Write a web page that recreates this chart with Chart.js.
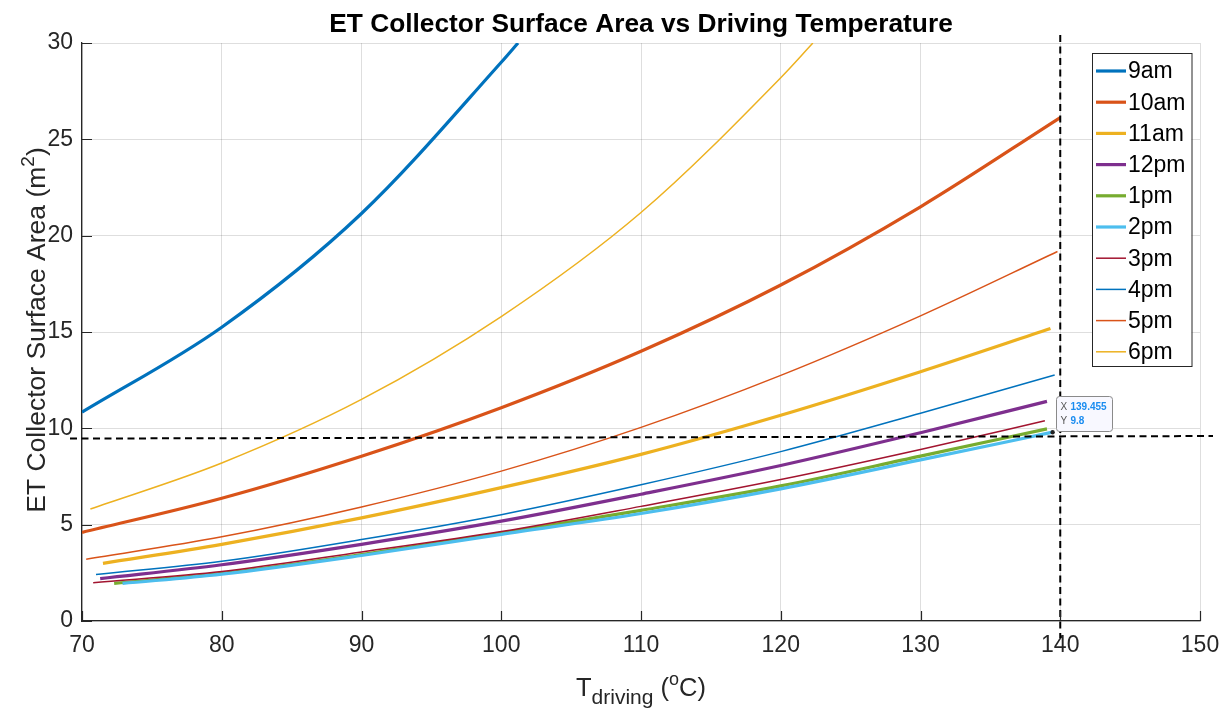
<!DOCTYPE html>
<html>
<head>
<meta charset="utf-8">
<script src="https://cdn.jsdelivr.net/npm/chart.js@4.4.1/dist/chart.umd.min.js"></script>
<style>
  html, body { margin: 0; padding: 0; background: #fff; }
</style>
</head>
<body>
<canvas id="myChart" width="1225" height="711"></canvas>
<script>
const seriesLabels = ['9am', '10am', '11am', '12pm', '1pm', '2pm', '3pm', '4pm', '5pm', '6pm'];
const seriesColors = ['#0072BD', '#D95319', '#EDB120', '#7E2F8E', '#77AC30', '#4DBEEE', '#A2142F', '#0072BD', '#D95319', '#EDB120'];
const seriesWidths = [3.2, 3.2, 3.2, 3.2, 3.2, 3.2, 1.5, 1.5, 1.5, 1.5];

// driving temperature (°C) / collector area (m²)
const t9am = [70, 80, 90, 100, 101.2];
const a9am = [10.84, 15.25, 21.15, 29.0, 30.0];
const t10am = [70, 80, 90, 100, 110, 120, 130, 140];
const a10am = [4.6, 6.37, 8.55, 11.07, 14.0, 17.44, 21.5, 26.13];
const t11am = [71.5, 80, 90, 100, 110, 120, 130, 139.3];
const a11am = [2.99, 3.98, 5.35, 6.92, 8.65, 10.68, 12.94, 15.18];
const t12pm = [71.3, 80, 90, 100, 110, 120, 130, 139.05];
const a12pm = [2.2, 2.92, 3.98, 5.18, 6.58, 8.07, 9.77, 11.4];
const t1pm = [72.3, 80, 90, 100, 110, 120, 130, 139.05];
const a1pm = [1.95, 2.47, 3.45, 4.56, 5.74, 7.01, 8.56, 9.97];
const t2pm = [72.9, 80, 90, 100, 110, 120, 130, 139.455];
const a2pm = [1.95, 2.43, 3.4, 4.5, 5.58, 6.86, 8.36, 9.8];
const t3pm = [70.8, 80, 90, 100, 110, 120, 130, 138.9];
const a3pm = [1.99, 2.57, 3.58, 4.64, 5.95, 7.34, 8.9, 10.39];
const t4pm = [71.0, 80, 90, 100, 110, 120, 130, 139.6];
const a4pm = [2.41, 3.1, 4.23, 5.52, 7.07, 8.79, 10.78, 12.77];
const t5pm = [70.3, 80, 90, 100, 110, 120, 130, 139.8];
const a5pm = [3.21, 4.37, 5.92, 7.78, 10.05, 12.75, 15.84, 19.18];
const t6pm = [70.6, 80, 90, 100, 110, 120, 122.3];
const a6pm = [5.81, 8.2, 11.5, 15.8, 21.2, 28.2, 30.0];

const xTicks = [70, 80, 90, 100, 110, 120, 130, 140, 150];
const yTicks = [0, 5, 10, 15, 20, 25, 30];

// data tip and the two dashed guide lines
const tipX = 139.455;
const tipY = 9.8;
const guideX = 140;
const guideY = [9.47, 9.6];

const curveT = [t9am, t10am, t11am, t12pm, t1pm, t2pm, t3pm, t4pm, t5pm, t6pm];
const curveA = [a9am, a10am, a11am, a12pm, a1pm, a2pm, a3pm, a4pm, a5pm, a6pm];

const FONT = '"Liberation Sans", Arial, Helvetica, sans-serif';
const TEXT = '#262626';

const datasets = seriesLabels.map((label, i) => ({
    label: label,
    data: curveT[i].map((t, k) => ({ x: t, y: curveA[i][k] })),
    borderColor: seriesColors[i],
    backgroundColor: seriesColors[i],
    borderWidth: seriesWidths[i],
    pointRadius: 0,
    fill: false,
    cubicInterpolationMode: 'monotone',
    order: -i
}));

// draw a row of text runs (normal / sub / sup) starting at x
function drawRuns(ctx, runs, x, y) {
    runs.forEach(r => {
        ctx.font = r.size + 'px ' + FONT;
        ctx.fillText(r.text, x, y + (r.dy || 0));
        x += ctx.measureText(r.text).width;
    });
}
function runsWidth(ctx, runs) {
    let w = 0;
    runs.forEach(r => {
        ctx.font = r.size + 'px ' + FONT;
        w += ctx.measureText(r.text).width;
    });
    return w;
}

const guides = {
    id: 'guides',
    afterDatasetsDraw(chart) {
        const ctx = chart.ctx, ca = chart.chartArea;
        const xs = chart.scales.x, ys = chart.scales.y;
        ctx.save();
        ctx.strokeStyle = '#000';
        ctx.lineWidth = 2;
        ctx.setLineDash([7, 4.5]);
        const gx = xs.getPixelForValue(guideX);
        ctx.beginPath();
        ctx.moveTo(gx, ca.top - 8);
        ctx.lineTo(gx, ca.bottom + 17);
        ctx.stroke();
        ctx.beginPath();
        ctx.moveTo(ca.left - 12, ys.getPixelForValue(guideY[0]));
        ctx.lineTo(ca.right + 13, ys.getPixelForValue(guideY[1]));
        ctx.stroke();
        ctx.restore();
    }
};

const decor = {
    id: 'decor',
    afterDraw(chart) {
        const ctx = chart.ctx, ca = chart.chartArea;
        const xs = chart.scales.x, ys = chart.scales.y;
        ctx.save();

        // inward ticks
        ctx.strokeStyle = TEXT;
        ctx.lineWidth = 1.2;
        ctx.beginPath();
        xTicks.forEach(v => {
            const px = Math.round(xs.getPixelForValue(v)) + 0.5;
            ctx.moveTo(px, ca.bottom);
            ctx.lineTo(px, ca.bottom - 10);
        });
        yTicks.forEach(v => {
            const py = Math.round(ys.getPixelForValue(v)) + 0.5;
            ctx.moveTo(ca.left, py);
            ctx.lineTo(ca.left + 10, py);
        });
        ctx.stroke();

        // title
        ctx.fillStyle = '#000';
        ctx.textAlign = 'center';
        ctx.textBaseline = 'alphabetic';
        ctx.font = 'bold 26.3px ' + FONT;
        ctx.fillText('ET Collector Surface Area vs Driving Temperature', (ca.left + ca.right) / 2, 32);

        // x axis title
        ctx.fillStyle = TEXT;
        ctx.textAlign = 'left';
        const xRuns = [
            { text: 'T', size: 25.5 },
            { text: 'driving', size: 21, dy: 8 },
            { text: ' (', size: 25.5 },
            { text: 'o', size: 18, dy: -11 },
            { text: 'C)', size: 25.5 }
        ];
        const xw = runsWidth(ctx, xRuns);
        drawRuns(ctx, xRuns, (ca.left + ca.right) / 2 - xw / 2, 696);

        // y axis title
        const yRuns = [
            { text: 'ET Collector Surface Area (m', size: 26.5 },
            { text: '2', size: 19, dy: -11 },
            { text: ')', size: 26.5 }
        ];
        const yw = runsWidth(ctx, yRuns);
        ctx.save();
        ctx.translate(45, (ca.top + ca.bottom) / 2 - 2);
        ctx.rotate(-Math.PI / 2);
        drawRuns(ctx, yRuns, -yw / 2, 0);
        ctx.restore();

        // legend
        const lx = ca.right - 108, ly = ca.top + 9.5, lw = 99.5, lh = 313;
        ctx.fillStyle = '#fff';
        ctx.fillRect(lx, ly, lw, lh);
        ctx.strokeStyle = '#262626';
        ctx.lineWidth = 1;
        ctx.strokeRect(Math.round(lx) + 0.5, Math.round(ly) + 0.5, lw, lh);
        ctx.font = '23px ' + FONT;
        ctx.textBaseline = 'middle';
        chart.data.datasets.forEach((ds, i) => {
            const ry = ly + 18.5 + i * 31.2;
            ctx.strokeStyle = ds.borderColor;
            ctx.lineWidth = ds.borderWidth;
            ctx.beginPath();
            ctx.moveTo(lx + 4, ry);
            ctx.lineTo(lx + 34, ry);
            ctx.stroke();
            ctx.fillStyle = '#000';
            ctx.fillText(ds.label, lx + 36, ry + 1);
        });

        // data tip
        const px = xs.getPixelForValue(tipX), py = ys.getPixelForValue(tipY);
        ctx.fillStyle = '#222';
        ctx.beginPath();
        ctx.arc(px, py, 2.2, 0, Math.PI * 2);
        ctx.fill();
        const bx = Math.round(px + 3) + 0.5, by = Math.round(py - 36) + 0.5, bw = 56, bh = 35;
        ctx.fillStyle = '#f8f8ff';
        ctx.strokeStyle = '#8a8a8a';
        ctx.lineWidth = 1;
        ctx.beginPath();
        ctx.roundRect(bx, by, bw, bh, 3);
        ctx.fill();
        ctx.stroke();
        ctx.textBaseline = 'middle';
        ctx.font = '10px ' + FONT;
        ctx.fillStyle = '#555';
        ctx.fillText('X', bx + 4, by + 11);
        ctx.fillText('Y', bx + 4, by + 25);
        ctx.font = 'bold 10px ' + FONT;
        ctx.fillStyle = '#1a8cf0';
        ctx.fillText(String(tipX), bx + 14, by + 11);
        ctx.fillText(String(tipY), bx + 14, by + 25);

        ctx.restore();
    }
};

const ctx = document.getElementById('myChart').getContext('2d');

new Chart(ctx, {
    type: 'line',
    data: { datasets: datasets },
    options: {
        responsive: false,
        animation: false,
        devicePixelRatio: 1,
        layout: { padding: { top: 43, right: 25, left: 0, bottom: 0 } },
        plugins: {
            legend: { display: false },
            tooltip: { enabled: false }
        },
        scales: {
            x: {
                type: 'linear',
                min: 70,
                max: 150,
                afterBuildTicks: s => { s.ticks = xTicks.map(v => ({ value: v })); },
                afterFit: s => { s.height = 90; s.paddingLeft = 0; s.paddingRight = 0; },
                ticks: { color: TEXT, font: { family: FONT, size: 23 }, padding: 11, maxRotation: 0 },
                grid: { color: 'rgba(0,0,0,0.13)', drawTicks: false, lineWidth: 1 },
                border: { color: TEXT, width: 1.3 }
            },
            y: {
                min: 0,
                max: 30,
                afterBuildTicks: s => { s.ticks = yTicks.map(v => ({ value: v })); },
                afterFit: s => { s.width = 82; s.paddingTop = 0; s.paddingBottom = 0; },
                ticks: { color: TEXT, font: { family: FONT, size: 23 }, padding: 9 },
                grid: { color: 'rgba(0,0,0,0.13)', drawTicks: false, lineWidth: 1 },
                border: { color: TEXT, width: 1.3 }
            }
        }
    },
    plugins: [guides, decor]
});
</script>
</body>
</html>
